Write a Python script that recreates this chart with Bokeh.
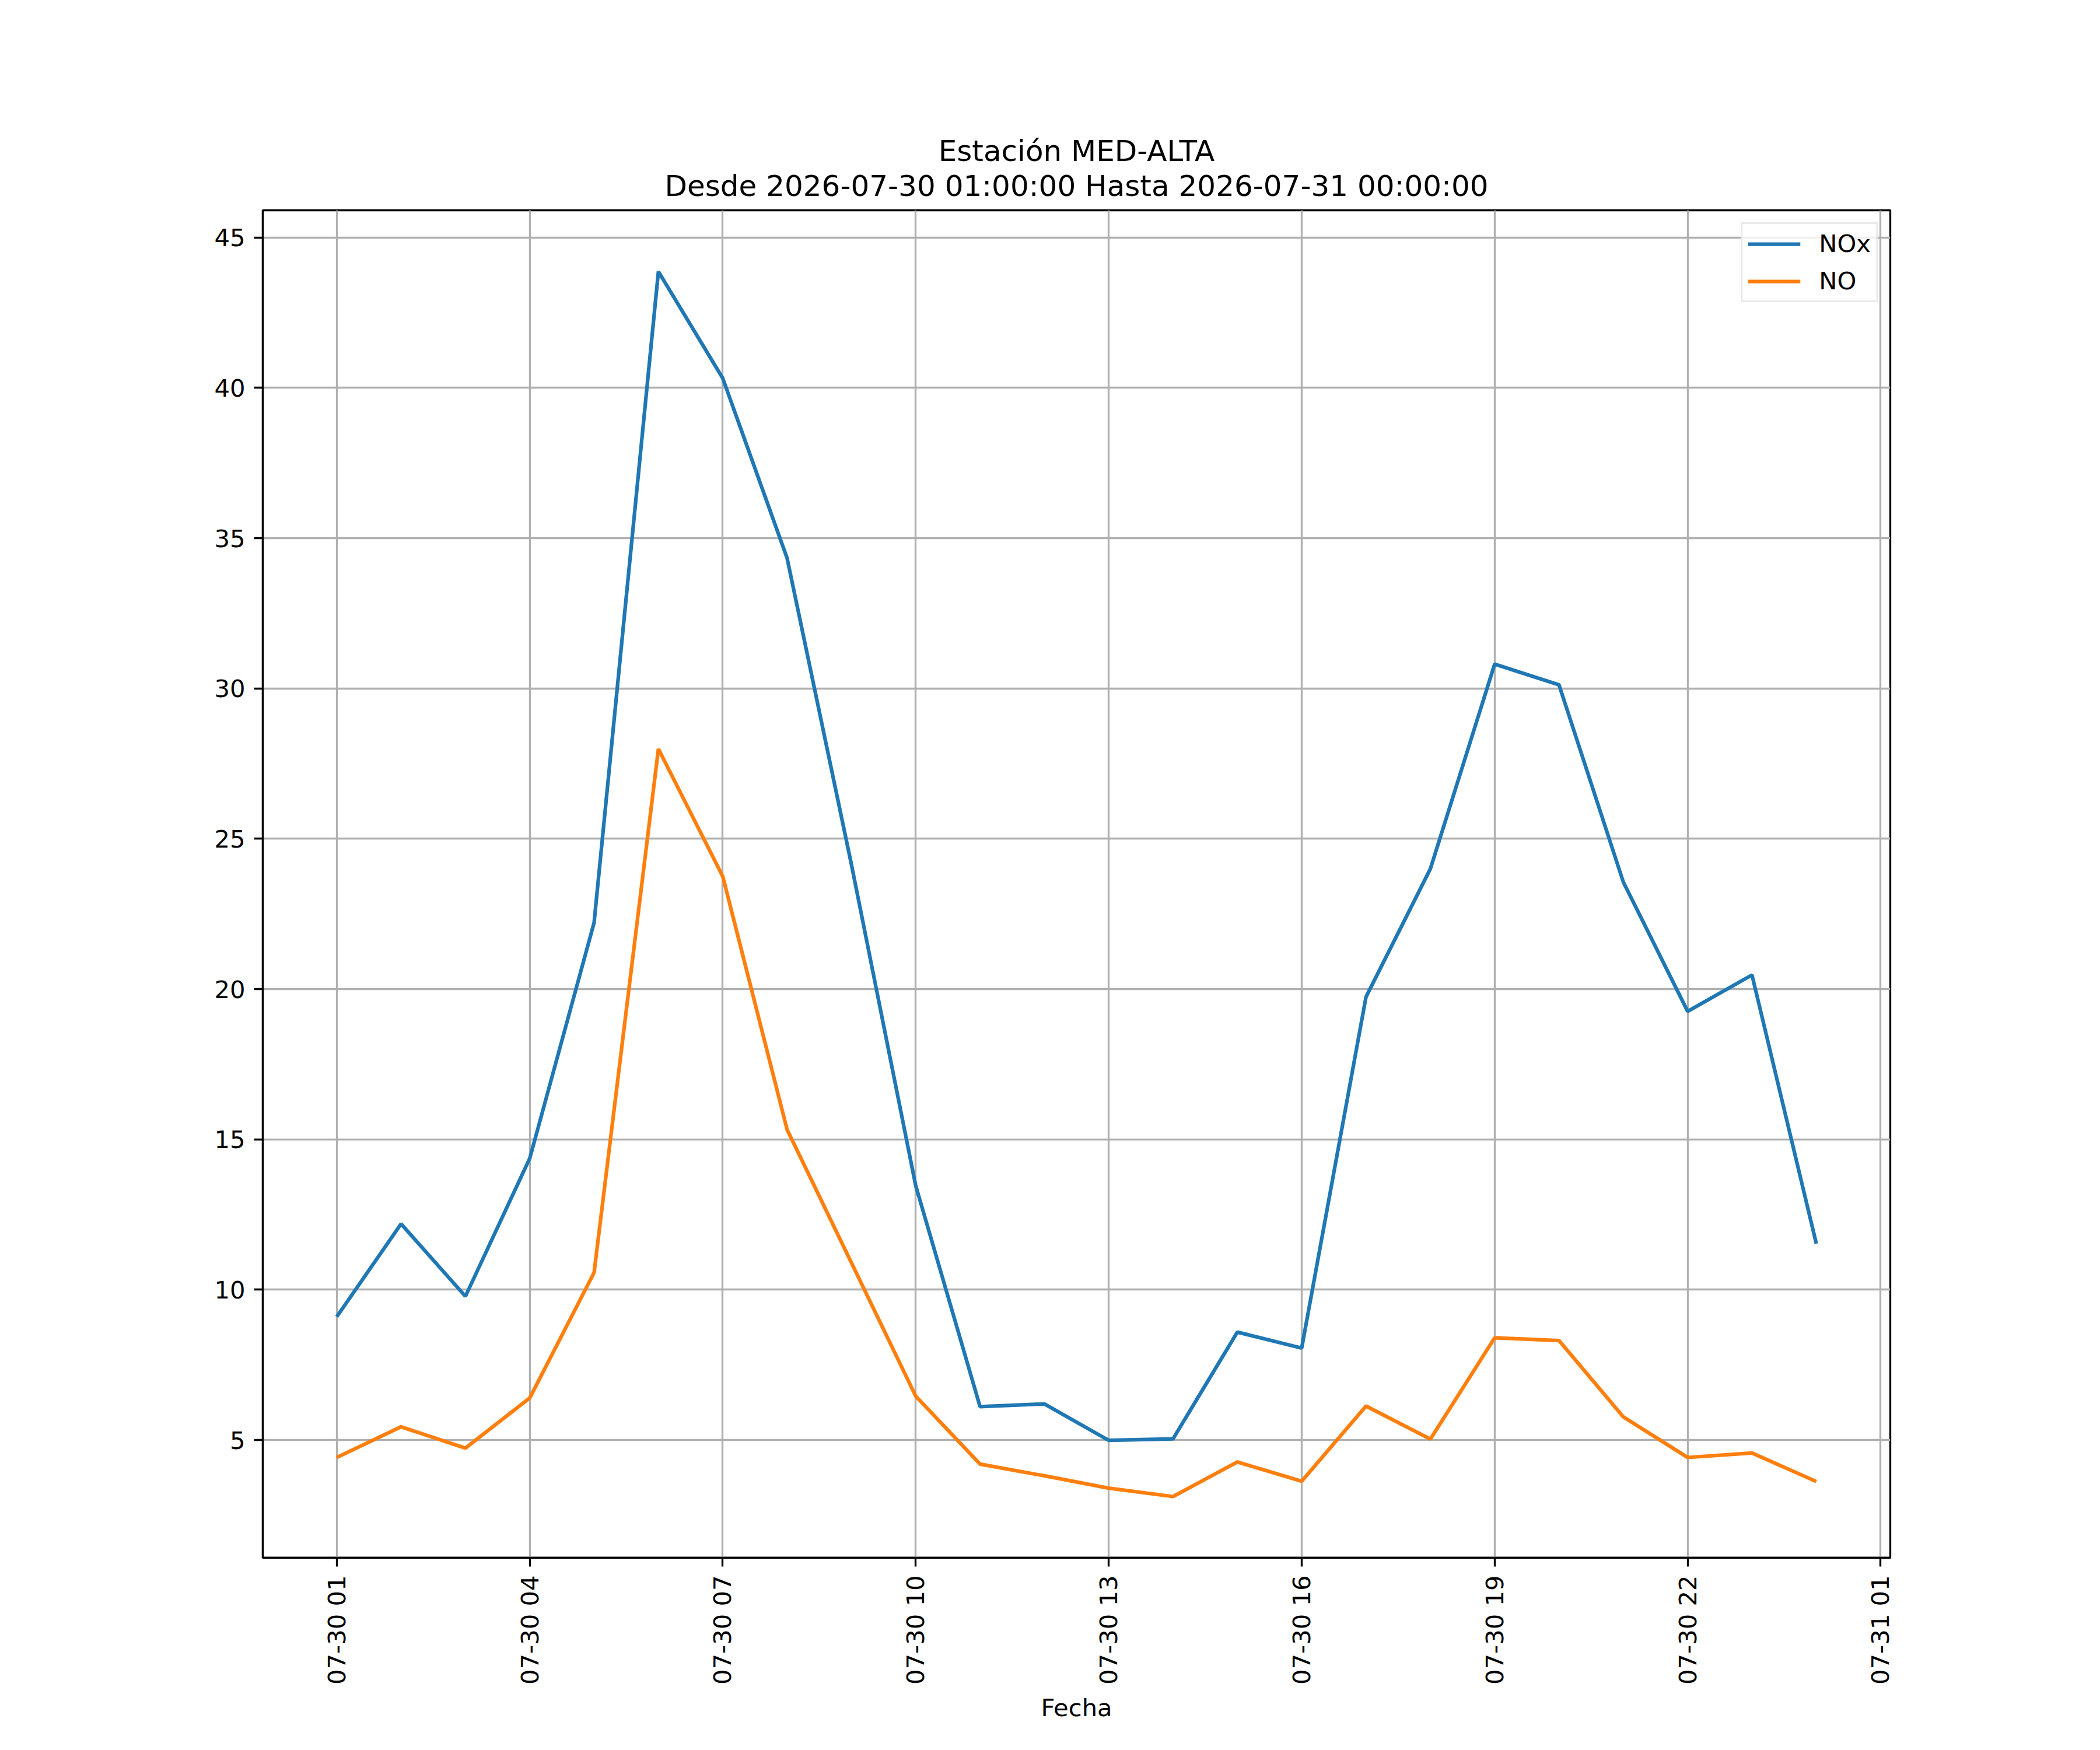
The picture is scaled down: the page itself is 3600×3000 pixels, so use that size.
import math
import pandas as pd
from bokeh.plotting import figure
from bokeh.models import Range1d, FixedTicker, DatetimeTickFormatter, Legend, LegendItem, Title
from bokeh.embed import file_html
from bokeh.resources import INLINE

# ---- data ----
fechas = ["2026-07-30 01:00", "2026-07-30 02:00", "2026-07-30 03:00", "2026-07-30 04:00",
          "2026-07-30 05:00", "2026-07-30 06:00", "2026-07-30 07:00", "2026-07-30 08:00",
          "2026-07-30 09:00", "2026-07-30 10:00", "2026-07-30 11:00", "2026-07-30 12:00",
          "2026-07-30 13:00", "2026-07-30 14:00", "2026-07-30 15:00", "2026-07-30 16:00",
          "2026-07-30 17:00", "2026-07-30 18:00", "2026-07-30 19:00", "2026-07-30 20:00",
          "2026-07-30 21:00", "2026-07-30 22:00", "2026-07-30 23:00", "2026-07-31 00:00"]
nox = [9.10, 12.19, 9.78, 14.37, 22.21, 43.87, 40.32, 34.34, 24.15, 13.46, 6.11, 6.20,
       4.99, 5.04, 8.59, 8.06, 19.74, 24.00, 30.81, 30.12, 23.56, 19.26, 20.47, 11.53]
no = [4.42, 5.44, 4.73, 6.40, 10.57, 27.99, 23.75, 15.33, 10.90, 6.46, 4.20, 3.81,
      3.40, 3.12, 4.27, 3.63, 6.13, 5.03, 8.40, 8.31, 5.77, 4.42, 4.57, 3.62]
x_ticks = ["2026-07-30 01:00", "2026-07-30 04:00", "2026-07-30 07:00", "2026-07-30 10:00",
           "2026-07-30 13:00", "2026-07-30 16:00", "2026-07-30 19:00", "2026-07-30 22:00",
           "2026-07-31 01:00"]
y_ticks = [5, 10, 15, 20, 25, 30, 35, 40, 45]
series_names = ["NOx", "NO"]
series_colors = ["#1f77b4", "#ff7f0e"]
titulo_1 = "Estación MED-ALTA"
titulo_2 = "Desde 2026-07-30 01:00:00 Hasta 2026-07-31 00:00:00"
x_label = "Fecha"

FONT = "DejaVu Sans"
x = pd.to_datetime(fechas)
xt_ms = [pd.Timestamp(t).value / 1e6 for t in x_ticks]

t0 = x[0].value / 1e6
t1 = x[-1].value / 1e6
xm = (t1 - t0) * 0.05
allv = nox + no
ymin, ymax = min(allv), max(allv)
ym = (ymax - ymin) * 0.05

W, H = 3592, 2992
p = figure(width=W, height=H, x_axis_type="datetime", output_backend="svg",
           toolbar_location=None, title=None,
           x_range=Range1d(t0 - xm, t1 + xm), y_range=Range1d(ymin - ym, ymax + ym))
p.min_border_left = 450
p.min_border_right = 352
p.min_border_top = 360
p.min_border_bottom = 322
p.background_fill_color = "white"
p.border_fill_color = "white"
p.outline_line_color = "black"
p.outline_line_width = 3.3

t_sub = Title(text=titulo_2, align="center", text_font=FONT, text_font_size="50px",
              text_font_style="normal", text_color="black", standoff=25)
t_main = Title(text=titulo_1, align="center", text_font=FONT, text_font_size="50px",
               text_font_style="normal", text_color="black", standoff=-24)
p.add_layout(t_sub, "above")
p.add_layout(t_main, "above")

r1 = p.line(x, nox, line_color=series_colors[0], line_width=6.25)
r2 = p.line(x, no, line_color=series_colors[1], line_width=6.25)

# axes
xa = p.xaxis[0]
xa.ticker = FixedTicker(ticks=xt_ms)
fmt = "%m-%d %H"
xa.formatter = DatetimeTickFormatter(microseconds=fmt, milliseconds=fmt, seconds=fmt,
                                     minsec=fmt, minutes=fmt, hourmin=fmt, hours=fmt,
                                     days=fmt, months=fmt, years=fmt)
xa.major_label_orientation = math.pi / 2
xa.axis_label = x_label
ya = p.yaxis[0]
ya.ticker = FixedTicker(ticks=y_ticks)

for ax in (xa, ya):
    ax.axis_line_width = 3.3
    ax.axis_line_color = "black"
    ax.major_tick_line_width = 3.3
    ax.major_tick_line_color = "black"
    ax.major_tick_out = 15
    ax.major_tick_in = 0
    ax.minor_tick_out = 0
    ax.minor_tick_in = 0
    ax.major_label_standoff = 15
    ax.major_label_text_font = FONT
    ax.major_label_text_font_size = "41.7px"
    ax.major_label_text_color = "black"
    ax.axis_label_text_font = FONT
    ax.axis_label_text_font_size = "41.7px"
    ax.axis_label_text_font_style = "normal"
    ax.axis_label_text_color = "black"
    ax.axis_label_standoff = 12

for g in (p.xgrid[0], p.ygrid[0]):
    g.grid_line_color = "#b0b0b0"
    g.grid_line_width = 3.3

legend = Legend(items=[LegendItem(label=series_names[0], renderers=[r1]),
                       LegendItem(label=series_names[1], renderers=[r2])],
                location="top_right")
legend.margin = 21
legend.padding = 9
legend.spacing = 15
legend.glyph_width = 90
legend.glyph_height = 40
legend.label_height = 40
legend.label_standoff = 32
legend.label_text_font = FONT
legend.label_text_font_size = "41.7px"
legend.label_text_color = "black"
legend.border_line_color = "#d6d6d6"
legend.border_line_width = 3.3
legend.background_fill_color = "white"
legend.background_fill_alpha = 0.8
p.add_layout(legend)

open("out.html", "w").write(file_html(p, INLINE))
